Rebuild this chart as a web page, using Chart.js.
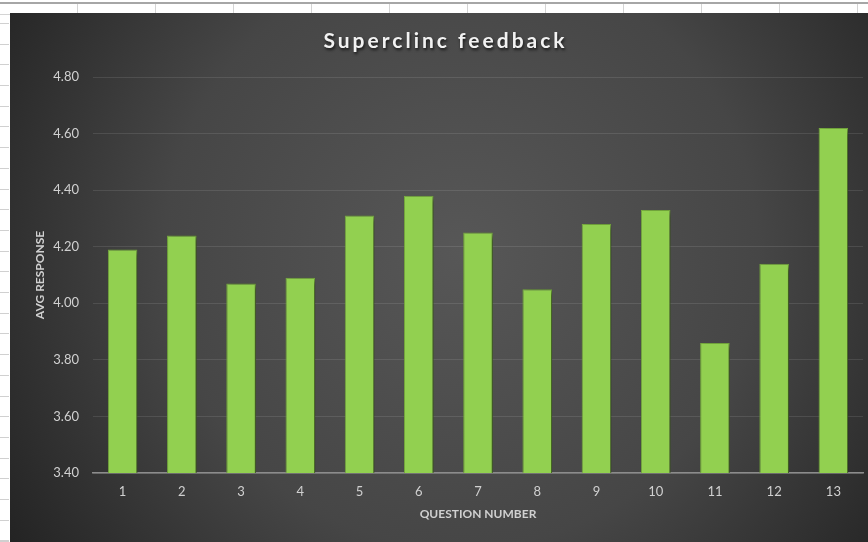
<!DOCTYPE html>
<html>
<head>
<meta charset="utf-8">
<script src="https://cdn.jsdelivr.net/npm/chart.js@4"></script>
<style>
  html, body { margin: 0; padding: 0; width: 868px; height: 542px; overflow: hidden; background: #fff; }
  #sheet-top {
    position: absolute; left: 0; top: 2px; width: 868px; height: 10px;
    border-top: 2px solid #a6a6a6; border-bottom: 1px solid #d4d4d4;
    background: repeating-linear-gradient(to right, transparent 0 77px, #d4d4d4 77px 78px);
  }
  #sheet-left {
    position: absolute; left: 0; top: 13px; width: 9px; height: 529px;
    background: repeating-linear-gradient(to bottom, transparent 0 10px, #d0d0d0 10px 11px, transparent 11px 20.7px);
  }
  #chart-box { position: absolute; left: 10px; top: 13px; }
</style>
</head>
<body>
<div id="sheet-top"></div>
<div id="sheet-left"></div>
<div id="chart-box"><canvas id="bar-chart" width="868" height="529"></canvas></div>
<script>
const CHART_TITLE = "Superclinc feedback"
const X_TITLE = "QUESTION NUMBER"
const Y_TITLE = "AVG RESPONSE"
const questions = ["1", "2", "3", "4", "5", "6", "7", "8", "9", "10", "11", "12", "13"]
const avgResponse = [4.19, 4.24, 4.07, 4.09, 4.31, 4.38, 4.25, 4.05, 4.28, 4.33, 3.86, 4.14, 4.62]
const yMin = 3.4
const yMax = 4.8
const yStep = 0.2

// dark radial backdrop like the excel chart style
const backdrop = {
  id: 'backdrop',
  beforeDraw(chart) {
    const ctx = chart.ctx
    const w = chart.width, h = chart.height
    const g = ctx.createRadialGradient(w * 0.52, h * 0.45, 0, w * 0.52, h * 0.45, 540)
    g.addColorStop(0, '#575757')
    g.addColorStop(0.55, '#464646')
    g.addColorStop(1, '#232323')
    ctx.save()
    ctx.fillStyle = g
    ctx.fillRect(0, 0, w, h)
    ctx.restore()
  }
}

const barShadow = {
  id: 'barShadow',
  beforeDatasetsDraw(chart) {
    const ctx = chart.ctx
    ctx.save()
    ctx.shadowColor = 'rgba(0,0,0,0.55)'
    ctx.shadowBlur = 5
    ctx.shadowOffsetX = 3
    ctx.shadowOffsetY = 2
  },
  afterDatasetsDraw(chart) {
    chart.ctx.restore()
  }
}

const spacedTitle = {
  id: 'spacedTitle',
  afterDraw(chart) {
    const ctx = chart.ctx
    ctx.save()
    ctx.font = 'bold 21px Lato'
    ctx.letterSpacing = '3px'
    ctx.textAlign = 'center'
    ctx.textBaseline = 'alphabetic'
    ctx.shadowColor = 'rgba(0,0,0,0.7)'
    ctx.shadowBlur = 3
    ctx.shadowOffsetX = 1
    ctx.shadowOffsetY = 2
    ctx.fillStyle = '#f2f2f2'
    ctx.fillText(CHART_TITLE, chart.width / 2 + 1.5, 35)
    ctx.restore()
  }
}

const barChart = document.getElementById("bar-chart").getContext("2d")
new Chart(barChart, {
  type: 'bar',
  data: {
    labels: questions,
    datasets: [{
      label: Y_TITLE,
      data: avgResponse,
      backgroundColor: '#92d050',
      borderColor: '#78ad3f',
      borderWidth: 1,
      barPercentage: 0.5,
      categoryPercentage: 1
    }]
  },
  options: {
    responsive: false,
    animation: false,
    layout: { padding: { top: 64, right: 15, bottom: 0, left: 0 } },
    plugins: {
      legend: { display: false },
      title: { display: false },
      tooltip: { enabled: false }
    },
    scales: {
      x: {
        grid: { display: false, drawTicks: false },
        border: { color: '#8c8c8c', width: 1.5 },
        ticks: { color: '#d0d0d0', padding: 11, font: { family: 'Lato', size: 13 } },
        title: {
          display: true, text: X_TITLE, color: '#d0d0d0',
          font: { family: 'Lato', size: 12, weight: 'bold' },
          padding: { top: 0, bottom: 21 }
        },
        afterFit(scale) { scale.height = 69 }
      },
      y: {
        min: yMin,
        max: yMax,
        grid: { color: 'rgba(255,255,255,0.1)', drawTicks: false },
        border: { display: false },
        ticks: {
          stepSize: yStep,
          color: '#d0d0d0',
          padding: 14,
          font: { family: 'Lato', size: 13 },
          callback: (v) => Number(v).toFixed(2)
        },
        title: {
          display: true, text: Y_TITLE, color: '#d0d0d0',
          font: { family: 'Lato', size: 12, weight: 'bold' },
          padding: { top: 23, bottom: 0 }
        },
        afterFit(scale) { scale.width = 83 }
      }
    }
  },
  plugins: [backdrop, barShadow, spacedTitle]
})
</script>
</body>
</html>
